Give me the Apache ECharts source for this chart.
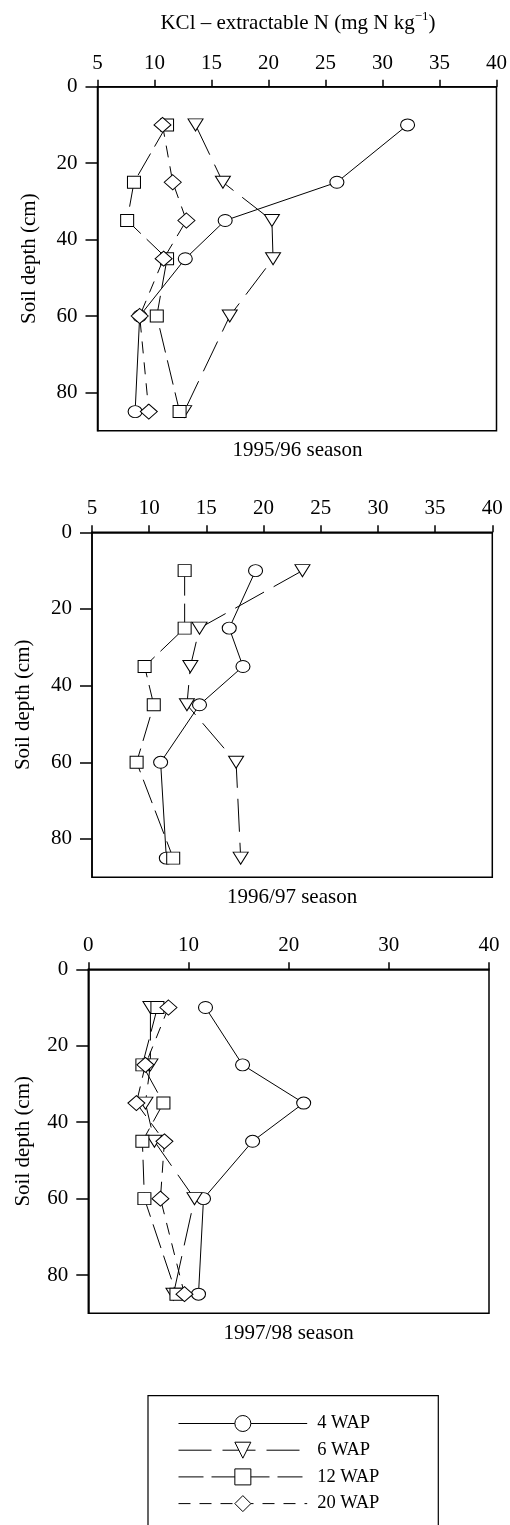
<!DOCTYPE html>
<html>
<head>
<meta charset="utf-8">
<script src="https://cdn.jsdelivr.net/npm/echarts@6/dist/echarts.min.js"></script>
<style>
html,body{margin:0;padding:0;background:#fff;}
#chart{width:510px;height:1525px;}
</style>
</head>
<body>
<div id="chart"></div>
<script>
// ---- data ----
const depths = [10, 25, 35, 45, 60, 85];
const seriesNames = ['4 WAP', '6 WAP', '12 WAP', '20 WAP'];
const seasons = ['1995/96 season', '1996/97 season', '1997/98 season'];

// 1995/96
const s1_4WAP = [32.2, 26.0, 16.2, 12.7, 8.7, 8.3];
const s1_6WAP = [13.6, 16.0, 20.3, 20.4, 16.6, 12.6];
const s1_12WAP = [11.1, 8.2, 7.6, 11.1, 10.2, 12.2];
const s1_20WAP = [10.7, 11.6, 12.8, 10.8, 8.7, 9.5];
// 1996/97
const s2_4WAP = [19.3, 17.0, 18.2, 14.4, 11.0, 11.5];
const s2_6WAP = [23.4, 14.4, 13.6, 13.3, 17.6, 18.0];
const s2_12WAP = [13.1, 13.1, 9.6, 10.4, 8.9, 12.1];
// 1997/98
const s3_4WAP = [11.7, 15.4, 21.5, 16.4, 11.5, 11.0];
const s3_6WAP = [6.2, 6.2, 5.7, 6.6, 10.6, 8.5];
const s3_12WAP = [6.9, 5.4, 7.5, 5.4, 5.6, 8.8];
const s3_20WAP = [8.0, 5.7, 4.8, 7.6, 7.2, 9.6];

const xTicksA = [5, 10, 15, 20, 25, 30, 35, 40];
const xTicksB = [0, 10, 20, 30, 40];
const yTicks = [0, 20, 40, 60, 80];

const xTitle = 'KCl – extractable N (mg N kg';
const xTitleSup = '−1';
const yTitle = 'Soil depth (cm)';

// ---- styles ----
const FONT = 'Liberation Serif';
const styles = {
  '4 WAP': {symbol: 'circle', size: [14, 12], dash: 'solid'},
  '6 WAP': {symbol: 'path://M0,0 L10,0 L5,8 Z', size: [15, 12], dash: [33, 11]},
  '12 WAP': {symbol: 'rect', size: [13, 12], dash: [25, 8]},
  '20 WAP': {symbol: 'diamond', size: [17, 15], dash: [12, 9]}
};

const panels = [
  {grid: {left: 97.5, top: 86.7, width: 400, height: 344}, xmin: 5, xint: 5, xticks: xTicksA,
   series: [['4 WAP', s1_4WAP], ['6 WAP', s1_6WAP], ['12 WAP', s1_12WAP], ['20 WAP', s1_20WAP]], nameGap: 58},
  {grid: {left: 92, top: 532.3, width: 400.3, height: 345}, xmin: 5, xint: 5, xticks: xTicksA,
   series: [['4 WAP', s2_4WAP], ['6 WAP', s2_6WAP], ['12 WAP', s2_12WAP]], nameGap: 58},
  {grid: {left: 88.3, top: 969.3, width: 400.7, height: 344}, xmin: 0, xint: 10, xticks: xTicksB,
   series: [['4 WAP', s3_4WAP], ['6 WAP', s3_6WAP], ['12 WAP', s3_12WAP], ['20 WAP', s3_20WAP]], nameGap: 54}
];

const axisLineStyle = {color: '#000', width: 1.5};
const option = {
  animation: false,
  backgroundColor: '#fff',
  grid: [], xAxis: [], yAxis: [], series: [],
  graphic: [],
  legend: {
    orient: 'vertical', left: 178, top: 1414, padding: 0,
    itemWidth: 128.7, itemHeight: 20, itemGap: 7.7,
    selectedMode: false,
    textStyle: {fontFamily: FONT, fontSize: 18.5, color: '#000', padding: [0, 0, 0, 5]},
    data: seriesNames.map(n => ({
      name: n,
      itemStyle: {color: '#fff', borderColor: '#000', borderWidth: 1},
      lineStyle: {color: '#000', width: 1, type: styles[n].dash}
    }))
  }
};

panels.forEach((p, gi) => {
  option.grid.push(Object.assign({show: true, borderColor: '#000', borderWidth: 1.5, backgroundColor: 'transparent'}, p.grid));
  option.xAxis.push({
    type: 'value', gridIndex: gi, position: 'top', min: p.xmin, max: 40, interval: p.xint,
    axisLine: {show: true, lineStyle: axisLineStyle},
    axisTick: {show: true, inside: false, length: 7, lineStyle: axisLineStyle, customValues: p.xticks},
    axisLabel: {color: '#000', fontFamily: FONT, fontSize: 21, margin: 13, customValues: p.xticks},
    splitLine: {show: false}
  });
  option.yAxis.push({
    type: 'value', gridIndex: gi, inverse: true, min: 0, max: 90, interval: 20,
    name: yTitle, nameLocation: 'middle', nameRotate: 90, nameGap: p.nameGap,
    nameTextStyle: {color: '#000', fontFamily: FONT, fontSize: 21},
    axisLine: {show: true, lineStyle: axisLineStyle},
    axisTick: {show: true, inside: false, length: 12, lineStyle: axisLineStyle, customValues: yTicks},
    axisLabel: {color: '#000', fontFamily: FONT, fontSize: 21, margin: 20, customValues: yTicks},
    splitLine: {show: false}
  });
  p.series.forEach(([name, vals]) => {
    const st = styles[name];
    option.series.push({
      type: 'line', name: name, xAxisIndex: gi, yAxisIndex: gi,
      data: vals.map((v, i) => [v, depths[i]]),
      symbol: st.symbol, symbolSize: st.size, showAllSymbol: true,
      lineStyle: {color: '#000', width: 1, type: st.dash},
      itemStyle: {color: '#fff', borderColor: '#000', borderWidth: 1},
      emphasis: {disabled: true}
    });
  });
  option.graphic.push({
    type: 'text', x: p.grid.left + p.grid.width / 2, y: p.grid.top + p.grid.height + 20,
    style: {text: seasons[gi], fontFamily: FONT, fontSize: 21, fill: '#000', align: 'center', verticalAlign: 'middle'}
  });
});

option.graphic.push({
  type: 'text', x: 298, y: 22,
  style: {
    text: '{a|' + xTitle + '}{s|' + xTitleSup + '}{a|)}',
    align: 'center', verticalAlign: 'middle',
    rich: {
      a: {fontFamily: FONT, fontSize: 21, fill: '#000', lineHeight: 24, verticalAlign: 'bottom'},
      s: {fontFamily: FONT, fontSize: 13, fill: '#000', lineHeight: 24, verticalAlign: 'top', padding: [0, 0, 0, 0]}
    }
  }
});
option.graphic.push({
  type: 'rect', shape: {x: 148, y: 1395.7, width: 290.3, height: 200},
  style: {fill: 'none', stroke: '#000', lineWidth: 1.2}
});

const chart = echarts.init(document.getElementById('chart'), null, {renderer: 'canvas'});
chart.setOption(option);
</script>
</body>
</html>
